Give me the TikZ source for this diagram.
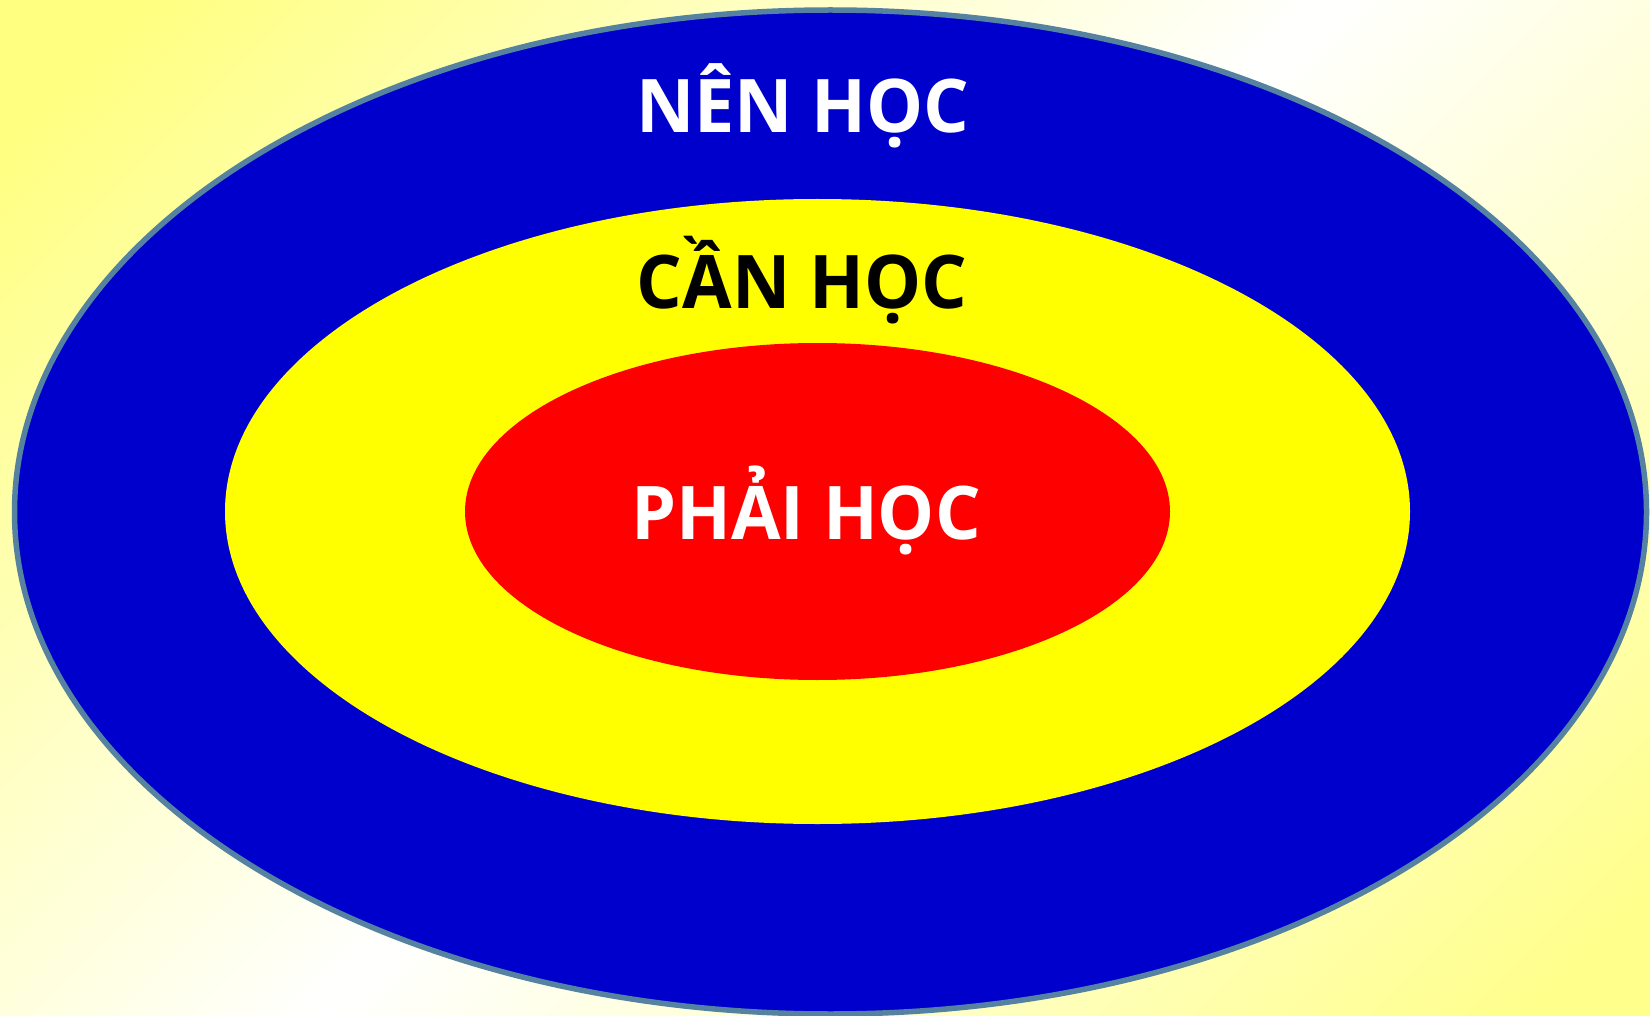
\documentclass[tikz,border=0pt]{standalone}
\usepackage{fontspec}
\newfontfamily\labelfont[FakeStretch=0.97]{Open Sans Bold}
\definecolor{outerblue}{HTML}{0000CC}
\definecolor{rimcol}{HTML}{5482A0}
\definecolor{midyellow}{HTML}{FFFF00}
\definecolor{innerred}{HTML}{FF0000}
\pgfdeclarehorizontalshading{bgshade}{100bp}{rgb(0bp)=(1,1,0.5); rgb(18bp)=(1,1,0.5); rgb(50bp)=(1,1,1); rgb(82bp)=(1,1,0.55); rgb(100bp)=(1,1,0.55)}
\tikzset{
  lbl/.style={anchor=base, inner sep=0pt, font=\labelfont\fontsize{74}{80}\selectfont}
}
\begin{document}
\begin{tikzpicture}[x=1pt,y=-1pt]
\useasboundingbox (0,0) rectangle (1650,1016);
\begin{scope}[y=1pt]
\shade[shading=bgshade, shading angle=-45] (0,-1016) rectangle (1650,0);
\end{scope}
\fill[outerblue, draw=rimcol, line width=5.5pt] (830.5,512) ellipse [x radius=816, y radius=502];
\fill[midyellow] (817.5,511.5) ellipse [x radius=592.5, y radius=312.5];
\fill[innerred] (817.5,511.5) ellipse [x radius=352.5, y radius=168.5];
\node[lbl, text=white] (nen) at (803,133) {NÊN HỌC};
\node[lbl, text=black] (can) at (802,309) {CẦN HỌC};
\node[lbl, text=white] (phai) at (806,539) {PHẢI HỌC};
\end{tikzpicture}
\end{document}
